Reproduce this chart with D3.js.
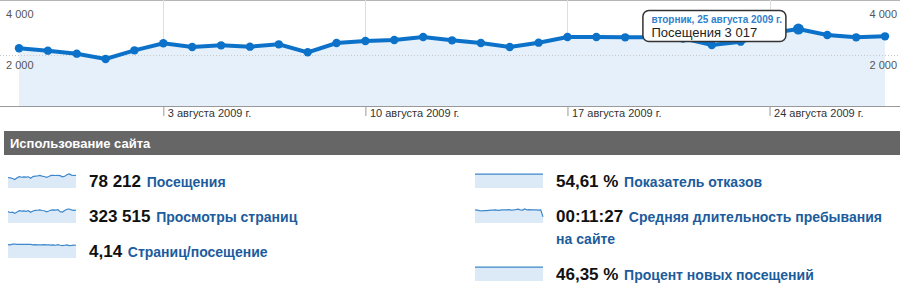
<!DOCTYPE html>
<html>
<head>
<meta charset="utf-8">
<script src="https://cdn.jsdelivr.net/npm/d3@7"></script>
<style>
  body { margin: 0; background: #fff; }
  svg { display: block; font-family: Arial, "Liberation Sans", sans-serif; }
</style>
</head>
<body>
<div id="chart"></div>
<script>
// daily visits, 29 Jul - 28 Aug 2009
var visits = [2263, 2170, 2052, 1843, 2183, 2458, 2314, 2379, 2327, 2418, 2105,
              2470, 2549, 2588, 2706, 2575, 2470, 2314, 2484, 2706, 2706, 2693,
              2700, 2650, 2392, 2523, 2850, 3017, 2784, 2693, 2732];
var pageviews = [9800, 9100, 9400, 8300, 9600, 10700, 10200, 10500, 10100, 10600, 9300,
                 10400, 10900, 11000, 11300, 10800, 10600, 9700, 10400, 11200, 11400, 11100,
                 11600, 9800, 9500, 10800, 11900, 12100, 11300, 11000, 11200];
var pagesPerVisit = [4.3, 4.2, 4.45, 4.5, 4.4, 4.35, 4.4, 4.42, 4.35, 4.4, 4.4,
                     4.2, 4.3, 4.25, 4.2, 4.22, 4.3, 4.2, 4.2, 4.15, 4.2, 4.1,
                     4.3, 4.1, 4.0, 4.1, 4.2, 4.0, 4.05, 4.12, 4.1];
var bounceRate = [54.5, 54.8, 54.2, 54.6, 54.9, 54.4, 54.7, 54.5, 54.8, 54.3, 54.6,
                  54.9, 54.5, 54.7, 54.4, 54.6, 54.8, 54.5, 54.3, 54.7, 54.9, 54.6,
                  54.4, 54.8, 54.5, 54.7, 54.4, 54.6, 54.8, 54.5, 54.6];
var avgDuration = [700, 690, 660, 650, 670, 665, 680, 690, 685, 700, 680,
                   690, 700, 710, 705, 720, 690, 700, 715, 745, 700, 690,
                   750, 700, 720, 705, 700, 700, 690, 700, 330];
var newVisits = [46.4, 46.2, 46.5, 46.3, 46.6, 46.2, 46.4, 46.3, 46.5, 46.1, 46.3,
                 46.4, 46.2, 46.5, 46.3, 46.2, 46.4, 46.6, 46.3, 46.2, 46.4, 46.5,
                 46.3, 46.2, 46.4, 46.3, 46.1, 46.4, 46.3, 46.2, 46.3];

var startDate = new Date(2009, 6, 29);
var tickDates = [new Date(2009, 7, 3), new Date(2009, 7, 10), new Date(2009, 7, 17), new Date(2009, 7, 24)];
var tickLabels = ["3 августа 2009 г.", "10 августа 2009 г.", "17 августа 2009 г.", "24 августа 2009 г."];
var yTicks = [2000, 4000];
var yTickLabels = ["2 000", "4 000"];

var metricValues = ["78 212", "323 515", "4,14", "54,61 %", "00:11:27", "46,35 %"];
var metricLabels = [["Посещения"], ["Просмотры страниц"], ["Страниц/посещение"],
                    ["Показатель отказов"], ["Средняя длительность пребывания", "на сайте"],
                    ["Процент новых посещений"]];
var metricSeries = [visits, pageviews, pagesPerVisit, bounceRate, avgDuration, newVisits];

var tooltipIndex = 27;
var tooltipTitle = "вторник, 25 августа 2009 г.";
var tooltipText = "Посещения 3 017";

var W = 900, H = 305;
var lineColor = "#0c72c9", fillColor = "#e5f0fa";
var labelBlue = "#1c5c9c";

var svg = d3.select("#chart").append("svg")
    .attr("width", W)
    .attr("height", H);

var dates = visits.map(function(v, i) { return d3.timeDay.offset(startDate, i); });

var x = d3.scaleTime()
    .domain([dates[0], dates[dates.length - 1]])
    .range([19, 885]);

var y = d3.scaleLinear()
    .domain([0, 4000])
    .range([106, 4]);

// frame
svg.append("line")
    .attr("x1", 0).attr("x2", W)
    .attr("y1", 0.5).attr("y2", 0.5)
    .attr("stroke", "#b5b5b5");

// week grid lines
svg.selectAll(".vgrid")
    .data(tickDates)
    .enter().append("line")
    .attr("class", "vgrid")
    .attr("x1", function(d) { return Math.round(x(d)) + 0.5; })
    .attr("x2", function(d) { return Math.round(x(d)) + 0.5; })
    .attr("y1", 0).attr("y2", 106)
    .attr("stroke", "#dedede");

// area
var area = d3.area()
    .x(function(d, i) { return x(dates[i]); })
    .y0(y(0))
    .y1(function(d) { return y(d); });

svg.append("path")
    .datum(visits)
    .attr("d", area)
    .attr("fill", fillColor);

// horizontal grid
svg.selectAll(".hgrid")
    .data(yTicks.filter(function(d) { return d < 4000; }))
    .enter().append("line")
    .attr("class", "hgrid")
    .attr("x1", 0).attr("x2", W)
    .attr("y1", function(d) { return Math.round(y(d)) + 0.5; })
    .attr("y2", function(d) { return Math.round(y(d)) + 0.5; })
    .attr("stroke", "#c8c8c8")
    .attr("stroke-dasharray", "1,2");

// x axis
svg.append("line")
    .attr("x1", 0).attr("x2", W)
    .attr("y1", 106.5).attr("y2", 106.5)
    .attr("stroke", "#999");

var xAxis = d3.axisBottom(x)
    .tickValues(tickDates)
    .tickSize(10)
    .tickFormat(function(d, i) { return tickLabels[i]; });

var gx = svg.append("g")
    .attr("transform", "translate(0,106)")
    .call(xAxis);
gx.select(".domain").remove();
gx.selectAll(".tick line").attr("stroke", "#999");
gx.selectAll(".tick text")
    .attr("text-anchor", "start")
    .attr("x", 4)
    .attr("y", 3)
    .attr("dy", "0.71em")
    .attr("fill", "#333")
    .style("font-size", "11px")
    .style("font-family", "Arial, 'Liberation Sans', sans-serif");

// y labels both sides
yTicks.forEach(function(t, i) {
    svg.append("text")
        .attr("x", 6)
        .attr("y", y(t) + 13.5)
        .attr("fill", "#555")
        .style("font-size", "11px")
        .text(yTickLabels[i]);
    svg.append("text")
        .attr("x", 897)
        .attr("y", y(t) + 13.5)
        .attr("text-anchor", "end")
        .attr("fill", "#555")
        .style("font-size", "11px")
        .text(yTickLabels[i]);
});

// line + dots
var line = d3.line()
    .x(function(d, i) { return x(dates[i]); })
    .y(function(d) { return y(d); });

svg.append("path")
    .datum(visits)
    .attr("d", line)
    .attr("fill", "none")
    .attr("stroke", lineColor)
    .attr("stroke-width", 4);

svg.selectAll(".dot")
    .data(visits)
    .enter().append("circle")
    .attr("class", "dot")
    .attr("cx", function(d, i) { return x(dates[i]); })
    .attr("cy", function(d) { return y(d); })
    .attr("r", function(d, i) { return i === tooltipIndex ? 5.5 : 4.2; })
    .attr("fill", lineColor);

// tooltip
var tx = x(dates[tooltipIndex]) - 156, ty = 10;
var tip = svg.append("g").attr("transform", "translate(" + tx + "," + ty + ")");
tip.append("rect")
    .attr("x", 0.5).attr("y", 0.5)
    .attr("width", 143).attr("height", 31)
    .attr("rx", 6)
    .attr("fill", "#fff")
    .attr("stroke", "#333")
    .attr("stroke-width", 1.5);
tip.append("text")
    .attr("x", 9).attr("y", 13)
    .attr("fill", "#2f80cc")
    .style("font-size", "10px")
    .style("font-weight", "600")
    .text(tooltipTitle);
tip.append("text")
    .attr("x", 9).attr("y", 27)
    .attr("fill", "#222")
    .style("font-size", "13px")
    .text(tooltipText);

// section header
svg.append("rect")
    .attr("x", 4).attr("y", 131)
    .attr("width", W - 4).attr("height", 24)
    .attr("fill", "#666");
svg.append("text")
    .attr("x", 10).attr("y", 148)
    .attr("fill", "#fff")
    .style("font-size", "13px")
    .style("font-weight", "bold")
    .text("Использование сайта");

// metrics with sparklines
var colX = [8, 475];
var textX = [89, 556];
var rowY = [[173, 208, 243], [173, 208, 266]];

metricSeries.forEach(function(series, k) {
    var col = k < 3 ? 0 : 1, row = k % 3;
    var sx = colX[col], sy = rowY[col][row];
    var sw = 68, sh = 15;

    var spx = d3.scaleLinear().domain([0, series.length - 1]).range([sx, sx + sw]);
    var spy = d3.scaleLinear().domain([0, d3.max(series)]).range([sy + sh, sy + 1]);

    var g = svg.append("g");
    g.append("path")
        .datum(series)
        .attr("d", d3.area()
            .x(function(d, i) { return spx(i); })
            .y0(sy + sh)
            .y1(function(d) { return spy(d); }))
        .attr("fill", "#dceaf7");
    g.append("path")
        .datum(series)
        .attr("d", d3.line()
            .x(function(d, i) { return spx(i); })
            .y(function(d) { return spy(d); }))
        .attr("fill", "none")
        .attr("stroke", "#3d87cc")
        .attr("stroke-width", 1.2);

    var base = sy + 14;
    var t = svg.append("text")
        .attr("x", textX[col])
        .attr("y", base)
        .style("font-weight", "bold");
    t.append("tspan")
        .attr("fill", "#111")
        .style("font-size", "17px")
        .text(metricValues[k] + " ");
    t.append("tspan")
        .attr("fill", labelBlue)
        .attr("dx", 1)
        .style("font-size", "14px")
        .text(metricLabels[k][0]);
    if (metricLabels[k].length > 1) {
        svg.append("text")
            .attr("x", textX[col])
            .attr("y", base + 22)
            .attr("fill", labelBlue)
            .style("font-size", "14px")
            .style("font-weight", "bold")
            .text(metricLabels[k][1]);
    }
});
</script>
</body>
</html>
